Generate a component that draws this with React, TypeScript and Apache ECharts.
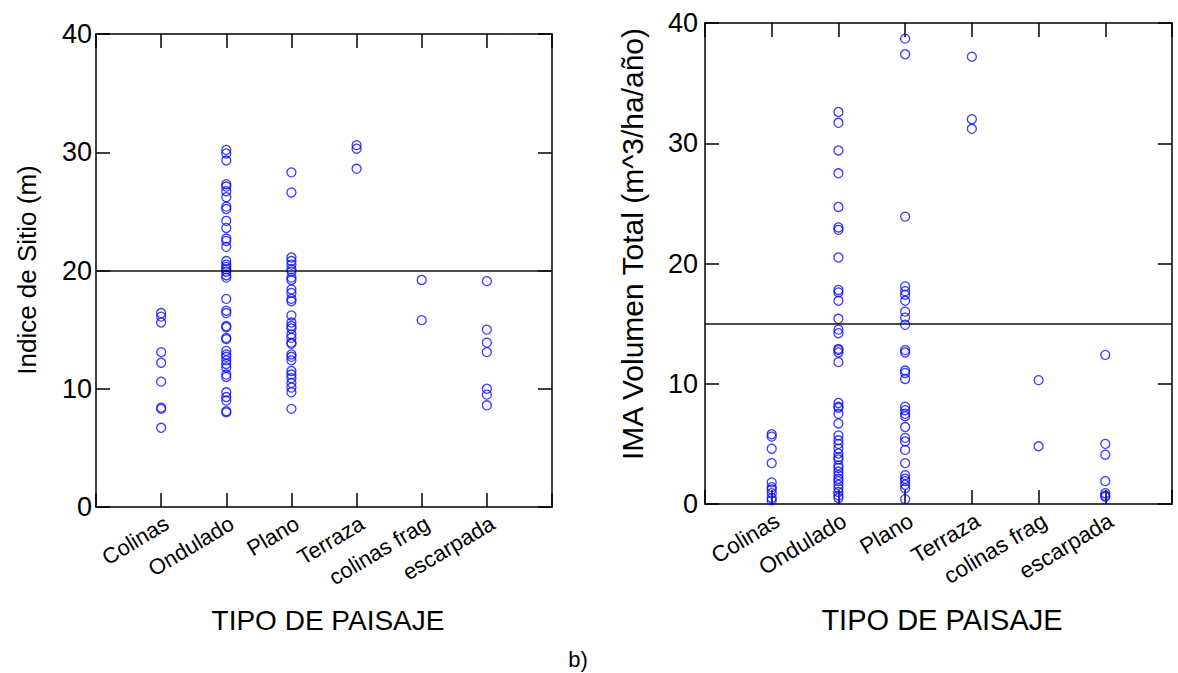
import React, { useEffect, useRef } from "react";
import * as echarts from "echarts";

// ---- data ----
const categories = ["Colinas", "Ondulado", "Plano", "Terraza", "colinas frag", "escarpada"];

// Panel a: Indice de Sitio (m)
const colinasIS = [16.4, 16.1, 15.6, 13.1, 12.2, 10.6, 8.4, 8.3, 6.7];
const onduladoIS = [30.2, 29.9, 29.3, 27.3, 27.1, 26.7, 26.2, 25.4, 25.2, 24.2, 23.6, 22.7, 22.5, 22.0, 20.8, 20.5, 20.3, 20.1, 19.9, 19.6, 19.4, 17.6, 16.6, 16.4, 15.3, 15.2, 14.3, 14.2, 13.2, 12.9, 12.7, 12.4, 12.1, 11.8, 11.2, 11.0, 9.7, 9.3, 9.0, 8.1, 8.0];
const planoIS = [28.3, 26.6, 21.1, 20.8, 20.5, 20.1, 19.9, 19.4, 19.2, 18.4, 18.1, 17.6, 17.4, 16.2, 15.6, 15.3, 15.1, 14.6, 14.3, 13.9, 13.8, 12.9, 12.7, 12.4, 11.5, 11.2, 10.9, 10.5, 10.1, 9.7, 8.3];
const terrazaIS = [30.6, 30.3, 28.6];
const colinasFragIS = [19.2, 15.8];
const escarpadaIS = [19.1, 15.0, 13.9, 13.1, 10.0, 9.5, 8.6];

// Panel b: IMA Volumen Total (m^3/ha/año)
const colinasIMA = [5.8, 5.6, 4.6, 3.4, 1.8, 1.4, 1.2, 0.9, 0.5, 0.3];
const onduladoIMA = [32.6, 31.7, 29.4, 27.5, 24.7, 23.0, 22.8, 20.5, 17.8, 17.6, 16.9, 15.4, 14.5, 14.2, 12.9, 12.8, 12.6, 11.8, 8.4, 8.1, 8.0, 7.5, 6.7, 5.7, 5.3, 5.0, 4.6, 4.2, 3.9, 3.7, 3.2, 3.0, 2.7, 2.4, 2.1, 1.9, 1.6, 1.3, 1.0, 0.7, 0.5];
const planoIMA = [38.7, 37.4, 23.9, 18.1, 17.7, 17.4, 16.9, 16.0, 15.5, 14.9, 12.8, 12.6, 11.1, 10.9, 10.4, 8.1, 7.8, 7.5, 7.3, 6.4, 5.5, 5.2, 4.5, 3.4, 2.4, 2.1, 1.9, 1.6, 1.3, 0.4];
const terrazaIMA = [37.2, 32.0, 31.2];
const colinasFragIMA = [10.3, 4.8];
const escarpadaIMA = [12.4, 5.0, 4.1, 1.9, 0.9, 0.7, 0.6];

const refLines = [20, 15];
const yTicks = [0, 10, 20, 30, 40];

const panelA = [colinasIS, onduladoIS, planoIS, terrazaIS, colinasFragIS, escarpadaIS];
const panelB = [colinasIMA, onduladoIMA, planoIMA, terrazaIMA, colinasFragIMA, escarpadaIMA];

const FONT = '"Liberation Sans", Arial, Helvetica, sans-serif';
const LINE = { color: "#000", width: 1.5 };

function toPoints(groups: number[][]) {
  const pts: number[][] = [];
  groups.forEach((vals, i) => vals.forEach((v) => pts.push([i + 1, v])));
  return pts;
}

function xAxes(gridIndex: number, fontSize: number) {
  return [
    {
      gridIndex,
      type: "value",
      min: 0,
      max: categories.length + 1,
      interval: 1,
      position: "bottom",
      axisLine: { show: true, onZero: false, lineStyle: LINE },
      axisTick: { show: true, inside: true, length: 14, lineStyle: LINE },
      splitLine: { show: false },
      axisLabel: {
        rotate: 31,
        fontSize,
        fontFamily: FONT,
        color: "#000",
        margin: 5,
        align: "right",
        verticalAlign: "top",
        formatter: (v: number) => (v >= 1 && v <= categories.length ? categories[v - 1] : ""),
      },
    },
    {
      gridIndex,
      type: "value",
      min: 0,
      max: categories.length + 1,
      interval: 1,
      position: "top",
      axisLine: { show: true, onZero: false, lineStyle: LINE },
      axisTick: { show: true, inside: true, length: 14, lineStyle: LINE },
      splitLine: { show: false },
      axisLabel: { show: false },
    },
  ];
}

function yAxes(gridIndex: number, fontSize: number, margin: number) {
  return [
    {
      gridIndex,
      type: "value",
      min: yTicks[0],
      max: yTicks[yTicks.length - 1],
      interval: 10,
      position: "left",
      axisLine: { show: true, onZero: false, lineStyle: LINE },
      axisTick: { show: true, inside: true, length: 14, lineStyle: LINE },
      splitLine: { show: false },
      axisLabel: { fontSize, fontFamily: FONT, color: "#000", margin },
    },
    {
      gridIndex,
      type: "value",
      min: yTicks[0],
      max: yTicks[yTicks.length - 1],
      interval: 10,
      position: "right",
      axisLine: { show: true, onZero: false, lineStyle: LINE },
      axisTick: { show: true, inside: true, length: 14, lineStyle: LINE },
      splitLine: { show: false },
      axisLabel: { show: false },
    },
  ];
}

function scatter(groups: number[][], axisBase: number, ref: number) {
  return {
    type: "scatter",
    xAxisIndex: axisBase,
    yAxisIndex: axisBase,
    data: toPoints(groups),
    symbol: "circle",
    symbolSize: 9,
    itemStyle: { color: "rgba(0,0,0,0)", borderColor: "#0a0aff", borderWidth: 1.3 },
    markLine: {
      silent: true,
      symbol: "none",
      label: { show: false },
      lineStyle: { color: "#111", width: 1.5, type: "solid" },
      data: [{ yAxis: ref }],
    },
  };
}

export default function App() {
  const ref = useRef<HTMLDivElement>(null);
  useEffect(() => {
    if (!ref.current) return;
    const chart = echarts.init(ref.current, undefined, { renderer: "svg" });
    chart.setOption({
      animation: false,
      backgroundColor: "#fff",
      grid: [
        { left: 96, top: 34, width: 456, height: 473 },
        { left: 705, top: 23, width: 467, height: 481 },
      ],
      xAxis: [...xAxes(0, 22), ...xAxes(1, 22.5)],
      yAxis: [...yAxes(0, 27, 4), ...yAxes(1, 27, 7)],
      series: [scatter(panelA, 0, refLines[0]), scatter(panelB, 2, refLines[1])],
      graphic: [
        {
          type: "text",
          x: 27,
          y: 270,
          rotation: Math.PI / 2,
          style: { text: "Indice de Sitio (m)", fontSize: 26, fontFamily: FONT, fill: "#000", align: "center", verticalAlign: "middle" },
        },
        {
          type: "text",
          x: 632,
          y: 244,
          rotation: Math.PI / 2,
          style: { text: "IMA Volumen Total (m^3/ha/año)", fontSize: 30, fontFamily: FONT, fill: "#000", align: "center", verticalAlign: "middle" },
        },
        {
          type: "text",
          x: 328,
          y: 620,
          style: { text: "TIPO DE PAISAJE", fontSize: 28, fontFamily: FONT, fill: "#000", align: "center", verticalAlign: "middle" },
        },
        {
          type: "text",
          x: 942,
          y: 620,
          style: { text: "TIPO DE PAISAJE", fontSize: 29, fontFamily: FONT, fill: "#000", align: "center", verticalAlign: "middle" },
        },
        {
          type: "text",
          x: 578,
          y: 659,
          style: { text: "b)", fontSize: 22, fontFamily: FONT, fill: "#000", align: "center", verticalAlign: "middle" },
        },
      ],
    });
    return () => chart.dispose();
  }, []);
  return (
    <div
      ref={ref}
      style={{ position: "fixed", left: 0, top: 0, width: 1178, height: 673, background: "#fff" }}
    />
  );
}
